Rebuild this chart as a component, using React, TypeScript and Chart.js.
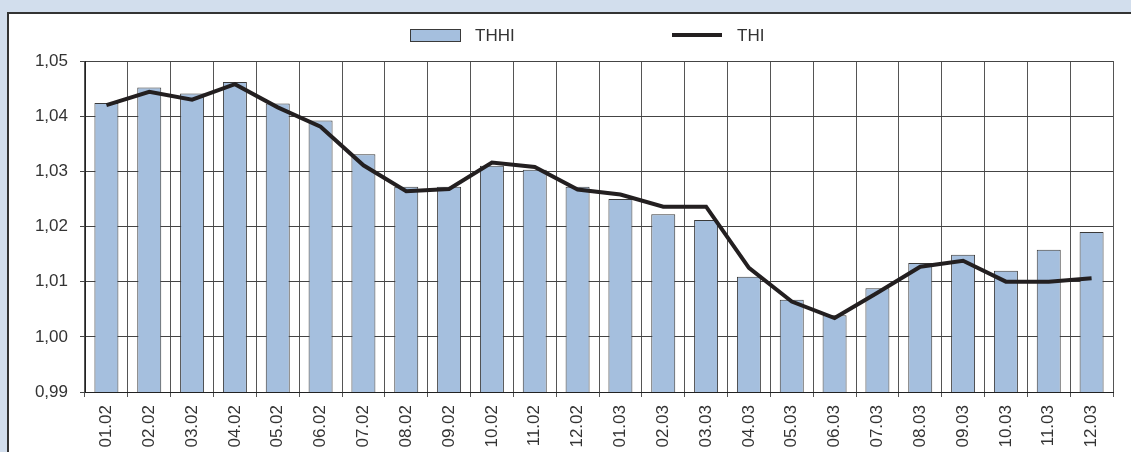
import React, { useEffect, useRef } from "react";
import { Chart, registerables } from "chart.js";

Chart.register(...registerables);

const categories = [
  "01.02", "02.02", "03.02", "04.02", "05.02", "06.02", "07.02", "08.02", "09.02", "10.02", "11.02", "12.02",
  "01.03", "02.03", "03.03", "04.03", "05.03", "06.03", "07.03", "08.03", "09.03", "10.03", "11.03", "12.03",
];

const thhiValues = [
  1.0424, 1.0452, 1.0441, 1.0462, 1.0423, 1.0392, 1.0331, 1.0272, 1.0272, 1.031, 1.0303, 1.0272,
  1.025, 1.0222, 1.0212, 1.0109, 1.0067, 1.0039, 1.0088, 1.0134, 1.0149, 1.012, 1.0158, 1.019,
];

const thiValues = [
  1.042, 1.0444, 1.043, 1.0458, 1.0416, 1.0381, 1.0311, 1.0264, 1.0268, 1.0316, 1.0308, 1.0267,
  1.0258, 1.0236, 1.0236, 1.0125, 1.0064, 1.0034, 1.008, 1.0127, 1.0138, 1.01, 1.01, 1.0106,
];

const seriesNames = ["THHI", "THI"];
const yMin = 0.99;
const yMax = 1.05;
const yStep = 0.01;

const BAR_FILL = "#a5bfde";
const BAR_BORDER = "#3a3a3a";
const LINE_COLOR = "#231f20";
const TEXT_COLOR = "#333333";
const FONT_FAMILY = "'Liberation Sans', Arial, sans-serif";

const legendPlugin = {
  id: "customLegend",
  afterDraw(chart: any) {
    const ctx = chart.ctx;
    ctx.save();
    ctx.font = `17px ${FONT_FAMILY}`;
    ctx.textBaseline = "middle";
    ctx.fillStyle = TEXT_COLOR;
    // bar item
    ctx.fillStyle = BAR_FILL;
    ctx.fillRect(410.5, 29.5, 50, 12);
    ctx.strokeStyle = BAR_BORDER;
    ctx.lineWidth = 1;
    ctx.strokeRect(410.5, 29.5, 50, 12);
    ctx.fillStyle = TEXT_COLOR;
    ctx.fillText(chart.data.datasets[1].label, 475, 36.5);
    // line item
    ctx.strokeStyle = LINE_COLOR;
    ctx.lineWidth = 4;
    ctx.beginPath();
    ctx.moveTo(672, 35);
    ctx.lineTo(722, 35);
    ctx.stroke();
    ctx.fillStyle = TEXT_COLOR;
    ctx.fillText(chart.data.datasets[0].label, 737, 36.5);
    ctx.restore();
  },
};

export default function App() {
  const canvasRef = useRef<HTMLCanvasElement | null>(null);

  useEffect(() => {
    if (!canvasRef.current) return;
    Chart.defaults.font.family = FONT_FAMILY;
    const chart = new Chart(canvasRef.current, {
      type: "bar",
      data: {
        labels: categories,
        datasets: [
          {
            type: "line",
            label: seriesNames[1],
            data: thiValues,
            borderColor: LINE_COLOR,
            borderWidth: 4,
            pointRadius: 0,
            tension: 0,
            fill: false,
            order: 0,
          } as any,
          {
            type: "bar",
            label: seriesNames[0],
            data: thhiValues,
            backgroundColor: BAR_FILL,
            borderColor: BAR_BORDER,
            borderWidth: 1,
            categoryPercentage: 1,
            barPercentage: 0.56,
            order: 1,
          },
        ],
      },
      options: {
        responsive: false,
        animation: false,
        layout: { padding: { top: 61, right: 18, bottom: 0, left: 0 } },
        plugins: {
          legend: { display: false },
          tooltip: { enabled: false },
        },
        scales: {
          x: {
            grid: {
              offset: true,
              color: "#555555",
              lineWidth: 1,
              drawTicks: true,
              tickLength: 5,
            },
            border: { color: "#222222", width: 1 },
            ticks: {
              minRotation: 90,
              maxRotation: 90,
              autoSkip: false,
              padding: 8,
              color: TEXT_COLOR,
              font: { size: 17, family: FONT_FAMILY },
            },
            afterFit(scale: any) {
              scale.height = 60;
            },
          },
          y: {
            min: yMin,
            max: yMax,
            grid: {
              color: "#444444",
              lineWidth: 1,
              drawTicks: true,
              tickLength: 5,
            },
            border: { color: "#222222", width: 1 },
            ticks: {
              stepSize: yStep,
              padding: 12,
              color: TEXT_COLOR,
              font: { size: 17, family: FONT_FAMILY },
              callback: (v: any) => Number(v).toFixed(2).replace(".", ","),
            },
            afterFit(scale: any) {
              scale.width = 85;
            },
          },
        },
      },
      plugins: [legendPlugin],
    });
    return () => chart.destroy();
  }, []);

  return (
    <div
      style={{
        position: "absolute",
        left: 0,
        top: 0,
        width: 1131,
        height: 452,
        background: "#d2deed",
        overflow: "hidden",
      }}
    >
      <div
        style={{
          position: "absolute",
          left: 7,
          top: 12,
          width: 1131,
          height: 452,
          background: "#ffffff",
          borderTop: "2px solid #333333",
          borderLeft: "2px solid #333333",
        }}
      />
      <canvas
        ref={canvasRef}
        width={1131}
        height={452}
        style={{ position: "absolute", left: 0, top: 0, width: 1131, height: 452 }}
      />
    </div>
  );
}
